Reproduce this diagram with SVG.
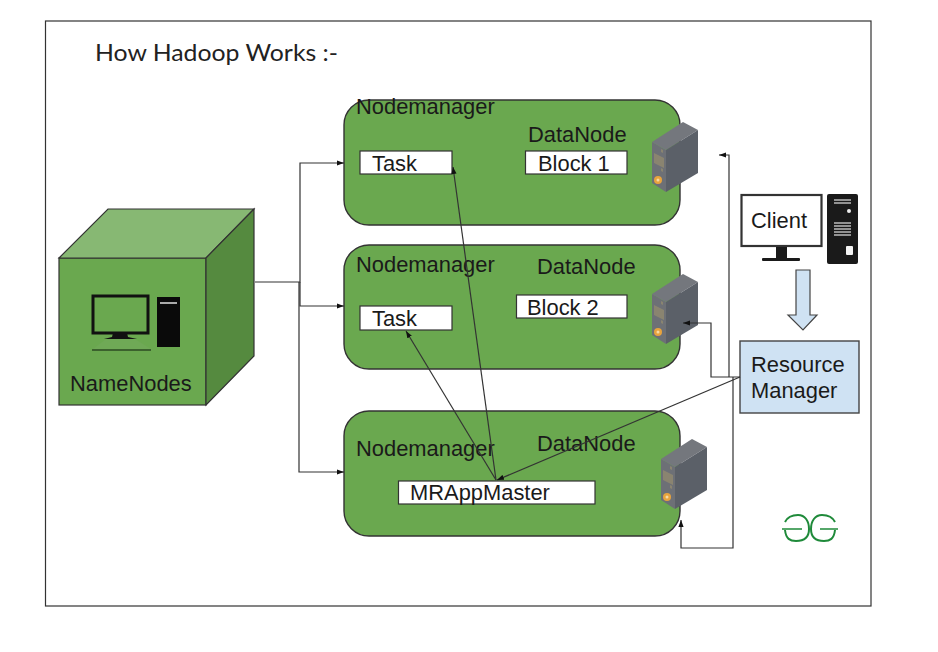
<svg xmlns="http://www.w3.org/2000/svg" width="938" height="652" viewBox="0 0 938 652">
<style>
text{font-family:"Liberation Sans",Arial,sans-serif;font-size:21.9px;fill:#1a1a1a}
.title{font-family:Lato,"Noto Sans",sans-serif;font-size:24px;fill:#222}
.nm{fill:#6aa84f;stroke:#333;stroke-width:1.4}
.box{fill:#fff;stroke:#333;stroke-width:1.2}
.line{fill:none;stroke:#333;stroke-width:1.2}
.srvL{fill:#6d7076}.srvT{fill:#74777d}.srvR{fill:#5b6068}
.srvD{fill:#8a8470}.srvO{fill:#e8a33d}.srvC{fill:#f6d9a6}
</style>
<defs>
<marker id="arr" markerUnits="userSpaceOnUse" markerWidth="8" markerHeight="6" refX="7" refY="3" orient="auto"><path d="M0 0.400L7 3L0 5.600Z" fill="#111"/></marker>
<g id="server">
<path class="srvL" d="M652 142L666 150V192L652 183Z"/>
<path class="srvT" d="M652 142L683 122L698 130L666 150Z"/>
<path class="srvR" d="M666 150L698 130V173L666 192Z"/>
<path class="srvD" d="M654 153L664 158V168L654 163ZM661 149l2 1v3l-2-1ZM661 168l2 1v3l-2-1Z"/>
<circle class="srvO" cx="658" cy="180" r="4"/><circle class="srvC" cx="658" cy="180" r="1.500"/>
</g>
</defs>
<rect width="938" height="652" fill="#fff"/>
<rect x="45.500" y="21" width="825.500" height="585" fill="#fff" stroke="#333" stroke-width="1.200"/>
<text class="title" x="95" y="61" textLength="243" lengthAdjust="spacingAndGlyphs">How Hadoop Works :-</text>

<g id="namenode">
<rect x="59" y="258" width="147" height="147" fill="#6aa84f" stroke="#333" stroke-width="1.200"/>
<path d="M59 258L108 209H254L206 258Z" fill="#87b873" stroke="#333" stroke-width="1.200"/>
<path d="M206 258L254 209V356L206 405Z" fill="#558a3f" stroke="#333" stroke-width="1.200"/>
<rect x="93" y="296" width="55" height="37" fill="none" stroke="#111" stroke-width="3"/>
<path d="M113 333H127L128 337L137 339H104L112 337Z" fill="#111"/>
<path d="M106 339H135L151 349H93Z" fill="#6fa956"/>
<path d="M92 350H151" stroke="#2d4a22" stroke-width="1.600"/>
<rect x="157" y="297" width="23" height="50" fill="#0a0a0a"/>
<rect x="160" y="302" width="17" height="2" fill="#aaa"/>
<text x="70" y="391">NameNodes</text>
</g>

<g id="node1">
<rect class="nm" x="344" y="100" width="336" height="125" rx="25"/>
<text x="356" y="114">Nodemanager</text>
<text x="528" y="142">DataNode</text>
<rect class="box" x="360" y="151" width="92" height="23"/>
<text x="372" y="171">Task</text>
<rect class="box" x="525.500" y="151" width="101.500" height="23"/>
<text x="538" y="171">Block 1</text>
<use href="#server"/>
</g>

<g id="node2">
<rect class="nm" x="344" y="245" width="336" height="124" rx="25"/>
<text x="356" y="272">Nodemanager</text>
<text x="537" y="274">DataNode</text>
<rect class="box" x="360" y="306" width="92" height="24"/>
<text x="372" y="326">Task</text>
<rect class="box" x="516.500" y="295" width="110.500" height="23"/>
<text x="527" y="315">Block 2</text>
<use href="#server" y="152"/>
</g>

<g id="node3">
<rect class="nm" x="344" y="411" width="336" height="125" rx="25"/>
<text x="356" y="456">Nodemanager</text>
<text x="537" y="451">DataNode</text>
<rect class="box" x="398.500" y="481" width="196.500" height="23"/>
<text x="410" y="500">MRAppMaster</text>
<use href="#server" x="9" y="317"/>
</g>

<g id="client">
<rect x="741.500" y="195" width="80" height="51" fill="#fff" stroke="#333" stroke-width="2.200"/>
<text x="751" y="228">Client</text>
<rect x="776" y="247" width="11" height="11" fill="#1a1a1a"/>
<rect x="762" y="258" width="38" height="3" rx="1" fill="#1a1a1a"/>
<rect x="827" y="194" width="31" height="70" rx="2" fill="#1a1a1a"/>
<path d="M834 200H851M834 203H851M834 223H851M834 226H851M834 229H851M834 232H851M834 235H851" stroke="#bbb" stroke-width="1.400"/>
<circle cx="849" cy="211" r="2" fill="#eee"/>
<rect x="846" y="246" width="7" height="9" rx="1" fill="#f4f4f4"/>
</g>

<g id="client-arrow">
<path d="M796 270H810V315H817L803 330L788 315H796Z" fill="#cfe2f3" stroke="#444" stroke-width="1.200"/>
</g>

<g id="resource-manager">
<rect x="740" y="341" width="119" height="72" fill="#cfe2f3" stroke="#444" stroke-width="1.400"/>
<text x="751" y="372">Resource</text>
<text x="751" y="398">Manager</text>
</g>

<g id="connectors">
<path class="line" marker-end="url(#arr)" d="M255 282H300V163H344"/>
<path class="line" marker-end="url(#arr)" d="M300 282V306H344"/>
<path class="line" marker-end="url(#arr)" d="M299 282V472H344"/>
<path class="line" marker-end="url(#arr)" d="M740 377H711V323H683"/>
<path class="line" marker-end="url(#arr)" d="M729 377V155H719"/>
<path class="line" marker-end="url(#arr)" d="M733 377V548H681V520"/>
<path class="line" marker-end="url(#arr)" d="M740 377L497 480"/>
<path class="line" marker-end="url(#arr)" d="M496 480L453 167"/>
<path class="line" marker-end="url(#arr)" d="M496 480L406 331"/>
</g>

<g id="logo" fill="none" stroke="#1f8a3a" stroke-width="2">
<path d="M782 529H802M820 529H838" stroke-width="1.600"/>
<path d="M785 522C788 516 795 515 798 515C805 515 809 521 809 529C809 537 804 541 796 541C790 541 786 539 785 530"/>
<path d="M835 522C832 516 825 515 822 515C815 515 811 521 811 529C811 537 816 541 824 541C830 541 834 539 835 530"/>
</g>
</svg>
